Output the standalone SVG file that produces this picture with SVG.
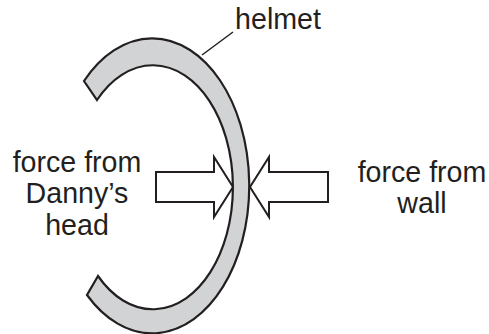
<svg xmlns="http://www.w3.org/2000/svg" width="489" height="334" viewBox="0 0 489 334">
  <style>
    .lbl { font-family: "Liberation Sans", Arial, sans-serif; font-size: 28.6px; fill: #231f20; text-anchor: middle; }
    .arrow { fill: #ffffff; stroke: #231f20; stroke-width: 2; stroke-linejoin: miter; }
    .helmet { fill: #d1d3d4; stroke: #231f20; stroke-width: 2.2; stroke-linejoin: miter; }
    .leader { stroke: #231f20; stroke-width: 1.5; fill: none; }
  </style>
  <rect width="489" height="334" fill="#ffffff"/>
  <g id="connectors">
    <path id="arrow-head-force" class="arrow" d="M156 172 L214 172 L214 157 L233 187 L214 217 L214 202 L156 202 Z"/>
    <path id="arrow-wall-force" class="arrow" d="M328 172 L269 172 L269 157 L250 187 L269 217 L269 202 L328 202 Z"/>
    <line class="leader" x1="202" y1="55" x2="233" y2="32"/>
  </g>
  <g id="helmet">
    <path class="helmet" d="M84 81 A97 147.5 0 1 1 87 295 L98 276 A80 122 0 1 0 97 100 Z"/>
  </g>
  <g id="label-helmet">
    <text class="lbl" x="278" y="29" font-size="27.5">helmet</text>
  </g>
  <g id="label-head">
    <text class="lbl" x="77" y="172">force from</text>
    <text class="lbl" x="77" y="203">Danny’s</text>
    <text class="lbl" x="77" y="235">head</text>
  </g>
  <g id="label-wall">
    <text class="lbl" x="422" y="182">force from</text>
    <text class="lbl" x="422" y="213">wall</text>
  </g>
</svg>
